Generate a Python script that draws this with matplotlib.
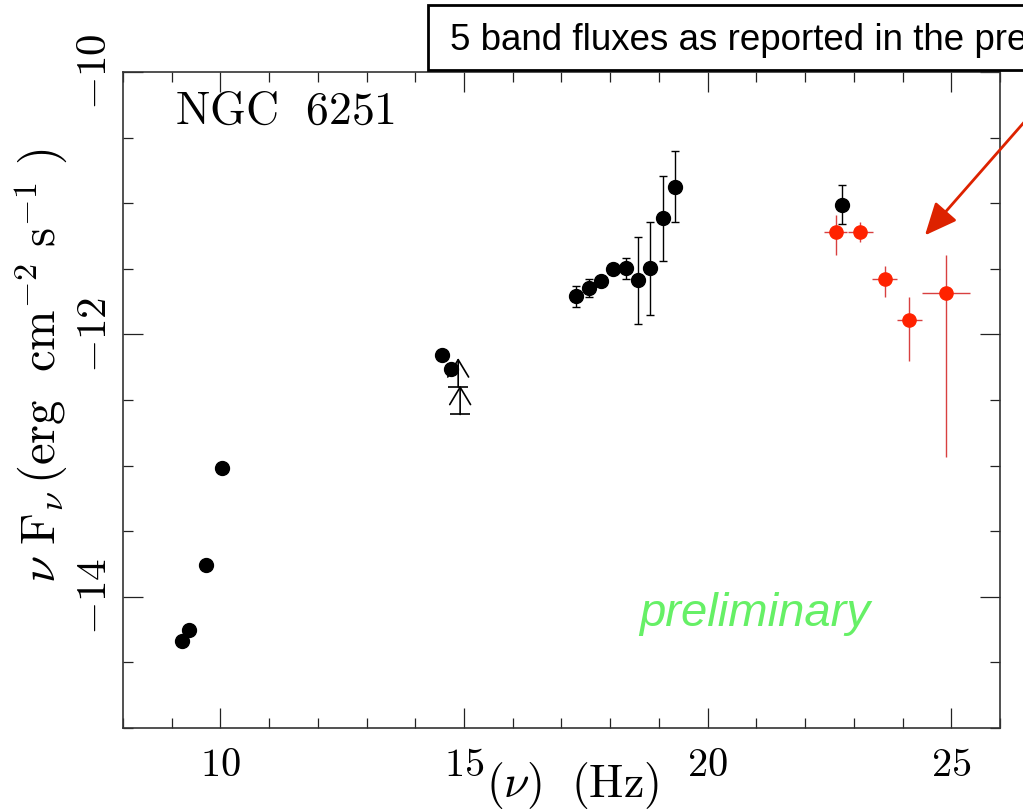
import numpy as np
import matplotlib
matplotlib.use("Agg")
import matplotlib.pyplot as plt
from matplotlib.ticker import MultipleLocator
from matplotlib.patches import Rectangle

plt.rcParams['mathtext.fontset'] = 'cm'

# radio + optical points (log nu, log nuFnu)
radio_x = [9.21, 9.35, 9.70, 10.03]
radio_y = [-14.34, -14.25, -13.76, -13.02]

opt_x = [14.55, 14.73]
opt_y = [-12.16, -12.26]

# lower limits
lim_x = [14.88, 14.92]
lim_y = [-12.40, -12.61]

# X-ray points with errors
xr_x = [17.30, 17.56, 17.81, 18.06, 18.32, 18.57, 18.82, 19.08, 19.33]
xr_y = [-11.71, -11.65, -11.59, -11.50, -11.49, -11.585, -11.49, -11.115, -10.875]
xr_lo = [0.08, 0.065, 0.0, 0.0, 0.085, 0.335, 0.36, 0.325, 0.27]
xr_hi = [0.08, 0.07, 0.0, 0.0, 0.075, 0.33, 0.35, 0.325, 0.27]

# black gamma point
g_x = [22.76]
g_y = [-11.01]
g_err = [0.15]

# LAT 5 band fluxes
lat_x = [22.63, 23.13, 23.63, 24.13, 24.89]
lat_y = [-11.217, -11.222, -11.578, -11.893, -11.682]
lat_xlo = [0.24, 0.25, 0.25, 0.25, 0.49]
lat_xhi = [0.24, 0.26, 0.25, 0.26, 0.50]
lat_ylo = [0.18, 0.075, 0.135, 0.31, 1.255]
lat_yhi = [0.13, 0.075, 0.10, 0.18, 0.29]

fig = plt.figure(figsize=(10.23, 8.10), dpi=100)
ax = fig.add_axes([0.1202, 0.1012, 0.8573, 0.8099])

ax.plot(radio_x + opt_x, radio_y + opt_y, 'o', color='black', ms=10, zorder=3)
ax.errorbar(xr_x, xr_y, yerr=[xr_lo, xr_hi], fmt='o', color='black', ms=10,
            ecolor='black', elinewidth=1, capsize=3, zorder=3)
ax.errorbar(g_x, g_y, yerr=g_err, fmt='o', color='black', ms=10,
            ecolor='black', elinewidth=1, capsize=3, zorder=3)

# lower limit arrows
ax.plot(lim_x, lim_y, '_', color='black', ms=14, mew=1.2)
for lx, ly in zip(lim_x, lim_y):
    ax.annotate('', xy=(lx, ly + 0.22), xytext=(lx, ly),
                arrowprops=dict(arrowstyle='->,head_length=0.5,head_width=0.3',
                                color='black', lw=1.2, shrinkA=0, shrinkB=0,
                                mutation_scale=25))

ax.errorbar(lat_x, lat_y, xerr=[lat_xlo, lat_xhi], yerr=[lat_ylo, lat_yhi],
            fmt='o', color='#ff2200', ms=9.5, ecolor='#d84040', elinewidth=1,
            capsize=0, zorder=4)

ax.set_xlim(8, 26)
ax.set_ylim(-15, -10)
ax.set_xticks([10, 15, 20, 25])
ax.set_xticklabels(['$10$', '$15$', '$20$', '$25$'], fontsize=29)
ax.set_yticks([-10, -12, -14])
ax.set_yticklabels(['$-10$', '$-12$', '$-14$'], fontsize=31, rotation=90, va='center')
ax.xaxis.set_minor_locator(MultipleLocator(1))
ax.yaxis.set_minor_locator(MultipleLocator(0.5))
ax.tick_params(which='both', direction='in', top=True, right=True, width=0.9, color='#222222')
ax.tick_params(which='major', length=14.4)
ax.tick_params(which='minor', length=7.2)
ax.tick_params(axis='x', pad=12)
ax.tick_params(axis='y', pad=6)
for s in ax.spines.values():
    s.set_color('#333333')
    s.set_linewidth(1.2)

ax.set_xlabel(r'$(\nu)\ \ (\mathrm{Hz})$', fontsize=33)
ax.xaxis.set_label_coords(0.512, -0.048)
ax.set_ylabel(r'$\nu\ \mathrm{F}_\nu\,(\mathrm{erg\ \ cm}^{-2}\ \mathrm{s}^{-1}\ )$', fontsize=35)
ax.yaxis.set_label_coords(-0.062, 0.553)

ax.text(9.07, -10.3, r'$\mathrm{NGC\ \ 6251}$', fontsize=33, va='center', ha='left')
ax.text(20.97, -14.13, 'preliminary', fontsize=34, style='italic', color='#66f066',
        family='Liberation Sans', ha='center', va='center')

ax.annotate('', xy=(24.46, -11.245), xytext=(27.03, -10.156),
            arrowprops=dict(arrowstyle='-|>,head_length=0.9,head_width=0.4',
                            color='#dd2200', lw=2, shrinkA=0, shrinkB=0,
                            mutation_scale=22),
            annotation_clip=False)

fig.patches.append(Rectangle((428 / 1023, 1 - 70 / 810), 0.6, 65 / 810,
                             transform=fig.transFigure, fc='white', ec='black', lw=2))
fig.text(450 / 1023, 1 - 40 / 810, '5 band fluxes as reported in the preliminary LAT list',
         fontsize=26.5, family='Liberation Sans', va='center', ha='left')

fig.savefig('out.png', dpi=100)
